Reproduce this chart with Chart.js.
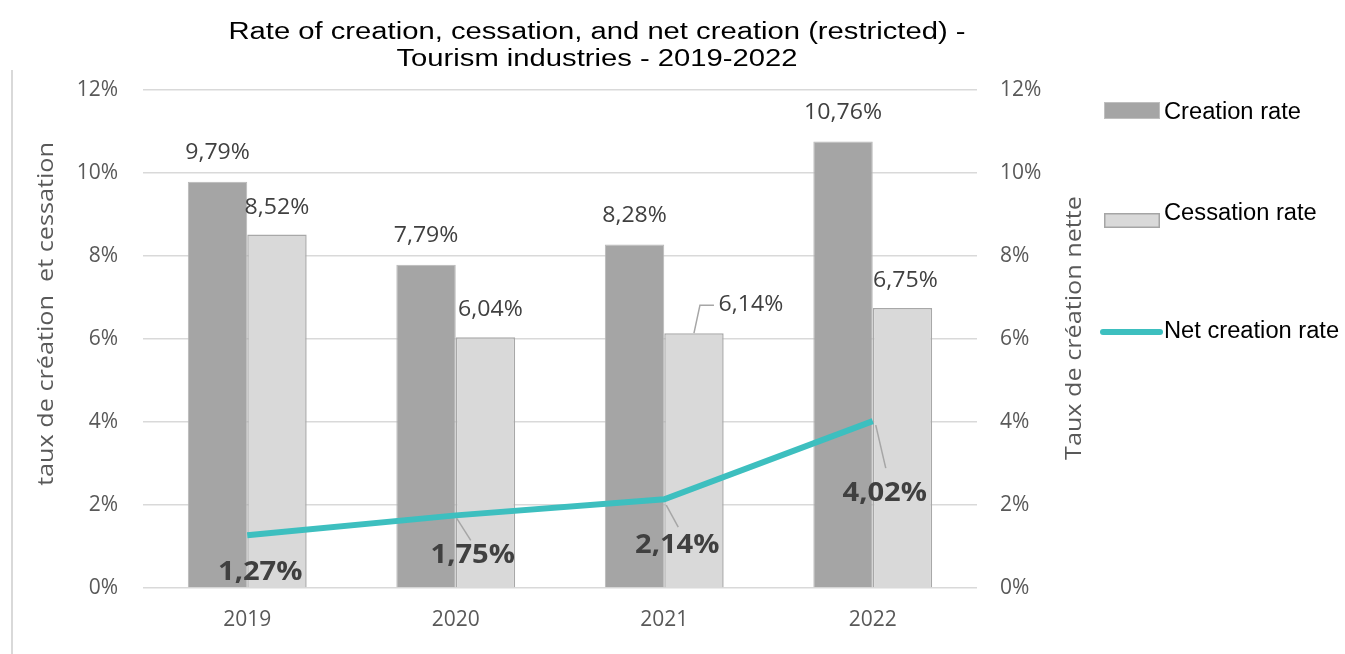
<!DOCTYPE html>
<html>
<head>
<meta charset="utf-8">
<script src="https://cdn.jsdelivr.net/npm/chart.js@4"></script>
<style>
  html, body { margin: 0; padding: 0; background: #fff; }
  #wrap { position: relative; width: 1345px; height: 654px; }
</style>
</head>
<body>
<div id="wrap"><canvas id="canvas1"></canvas></div>
<script>
const years = ["2019", "2020", "2021", "2022"];
const creationRate = [9.79, 7.79, 8.28, 10.76];
const cessationRate = [8.52, 6.04, 6.14, 6.75];
const netCreationRate = [1.27, 1.75, 2.14, 4.02];
const yTicks = [0, 2, 4, 6, 8, 10, 12];

const titleLines = [
  "Rate of creation, cessation, and net creation (restricted) -",
  "Tourism industries - 2019-2022",
];

const fmt = (v) => v.toFixed(2).replace(".", ",") + "%";

// label offsets from the element anchor (bar top / line point)
const labelOffsets = [
  [{ dx: 0, dy: -29 }, { dx: 0, dy: -29 }, { dx: 0, dy: -29 }, { dx: 0, dy: -29 }],
  [{ dx: 0, dy: -27 }, { dx: 5, dy: -28 }, { dx: 57, dy: -28 }, { dx: 3, dy: -27 }],
  [{ dx: 13, dy: 37 }, { dx: 17, dy: 40 }, { dx: 13, dy: 46 }, { dx: 12, dy: 72 }],
];
const leaders = [
  [null, null, null, null],
  [null, null, [[0, 0], [6, -28], [20, -28]], null],
  [null, [[1, 3], [15, 25]], [[2, 6], [14, 28]], [[3, 4], [13, 47]]],
];

// text drawn a little wider than the font, as in the original picture
function drawText(ctx, text, x, y, font, sx, rot) {
  ctx.save();
  ctx.translate(x, y);
  if (rot) ctx.rotate(rot);
  ctx.scale(sx, 1);
  ctx.font = font;
  ctx.fillText(text, 0, 0);
  ctx.restore();
}

const overlay = {
  id: "overlay",
  afterDraw(chart) {
    const ctx = chart.ctx;
    ctx.save();

    // left frame line
    ctx.strokeStyle = "#d9d9d9";
    ctx.lineWidth = 2;
    ctx.beginPath();
    ctx.moveTo(12, 70);
    ctx.lineTo(12, 654);
    ctx.stroke();

    ctx.textAlign = "center";
    ctx.textBaseline = "middle";

    // title
    ctx.fillStyle = "#000";
    const tf = "23px 'Liberation Sans', Arial, sans-serif";
    drawText(ctx, titleLines[0], 597, 33, tf, 1.27);
    drawText(ctx, titleLines[1], 597, 60, tf, 1.27);

    // axis titles
    ctx.fillStyle = "#595959";
    const af = "21px 'Open Sans', sans-serif";
    drawText(ctx, "taux de création  et cessation", 47, 314, af, 1.2, -Math.PI / 2);
    drawText(ctx, "Taux de création nette", 1075, 328, af, 1.2, -Math.PI / 2);

    // data labels
    chart.data.datasets.forEach((ds, di) => {
      const meta = chart.getDatasetMeta(di);
      meta.data.forEach((el, i) => {
        const off = labelOffsets[di][i];
        const lead = leaders[di][i];
        if (lead) {
          ctx.strokeStyle = "#a6a6a6";
          ctx.lineWidth = 1.5;
          ctx.beginPath();
          lead.forEach((p, k) => {
            if (k === 0) ctx.moveTo(el.x + p[0], el.y + p[1]);
            else ctx.lineTo(el.x + p[0], el.y + p[1]);
          });
          ctx.stroke();
        }
        ctx.fillStyle = "#404040";
        if (di === 2) {
          drawText(ctx, fmt(ds.data[i]), el.x + off.dx, el.y + off.dy, "bold 26px 'Open Sans', sans-serif", 1.12);
        } else {
          drawText(ctx, fmt(ds.data[i]), el.x + off.dx, el.y + off.dy, "22px 'Open Sans', sans-serif", 1.05);
        }
      });
    });

    // legend
    const lx = 1104;
    ctx.font = "23px 'Liberation Sans', Arial, sans-serif";
    ctx.textAlign = "left";
    ctx.fillStyle = "#a5a5a5";
    ctx.fillRect(lx, 102, 56, 17);
    ctx.strokeStyle = "#bfbfbf";
    ctx.lineWidth = 1;
    ctx.strokeRect(lx + 0.5, 102.5, 55, 16);
    ctx.fillStyle = "#000";
    drawText(ctx, chart.data.datasets[0].label, 1164, 113, ctx.font, 1.03);

    ctx.fillStyle = "#d9d9d9";
    ctx.fillRect(lx, 213, 56, 15);
    ctx.strokeStyle = "#a5a5a5";
    ctx.lineWidth = 1.5;
    ctx.strokeRect(lx + 0.75, 213.75, 54.5, 13.5);
    ctx.fillStyle = "#000";
    drawText(ctx, chart.data.datasets[1].label, 1164, 214, ctx.font, 1.03);

    ctx.strokeStyle = "#3dbfbf";
    ctx.lineWidth = 6;
    ctx.lineCap = "round";
    ctx.beginPath();
    ctx.moveTo(1103, 332);
    ctx.lineTo(1160, 332);
    ctx.stroke();
    ctx.fillStyle = "#000";
    drawText(ctx, chart.data.datasets[2].label, 1164, 332, ctx.font, 1.03);

    ctx.restore();
  },
};

const tickFont = { family: "'Open Sans', sans-serif", size: 21 };

const ctx = document.getElementById("canvas1").getContext("2d");

new Chart(ctx, {
  type: "bar",
  data: {
    labels: years,
    datasets: [
      {
        label: "Creation rate",
        data: creationRate,
        backgroundColor: "#a5a5a5",
        borderColor: "#b8b8b8",
        borderWidth: 1,
        yAxisID: "y",
        order: 2,
      },
      {
        label: "Cessation rate",
        data: cessationRate,
        backgroundColor: "#d9d9d9",
        borderColor: "#a8a8a8",
        borderWidth: 1.5,
        yAxisID: "y",
        order: 2,
      },
      {
        type: "line",
        label: "Net creation rate",
        data: netCreationRate,
        borderColor: "#3dbfbf",
        backgroundColor: "#3dbfbf",
        borderWidth: 6,
        pointRadius: 0,
        tension: 0,
        yAxisID: "y2",
        order: 1,
      },
    ],
  },
  options: {
    responsive: true,
    maintainAspectRatio: false,
    animation: false,
    layout: { padding: { top: 90, right: 257, bottom: 0, left: 0 } },
    datasets: {
      bar: { categoryPercentage: 0.57, barPercentage: 1 },
    },
    plugins: {
      legend: { display: false },
      title: { display: false },
      tooltip: { enabled: false },
    },
    scales: {
      x: {
        grid: { display: false, drawTicks: false },
        border: { display: false },
        ticks: { color: "#595959", font: tickFont, padding: 19 },
        afterFit: (s) => { s.height = 66; },
      },
      y: {
        min: 0,
        max: 12,
        afterBuildTicks: (s) => { s.ticks = yTicks.map((v) => ({ value: v })); },
        grid: { color: "#d9d9d9", lineWidth: 1.5, drawTicks: false },
        border: { display: false },
        ticks: { color: "#595959", font: tickFont, padding: 25, callback: (v) => v + "%" },
        afterFit: (s) => { s.width = 143; },
      },
      y2: {
        position: "right",
        min: 0,
        max: 12,
        afterBuildTicks: (s) => { s.ticks = yTicks.map((v) => ({ value: v })); },
        grid: { display: false, drawTicks: false },
        border: { display: false },
        ticks: { color: "#595959", font: tickFont, padding: 23, callback: (v) => v + "%" },
        afterFit: (s) => { s.width = 111; },
      },
    },
  },
  plugins: [overlay],
});
</script>
</body>
</html>
